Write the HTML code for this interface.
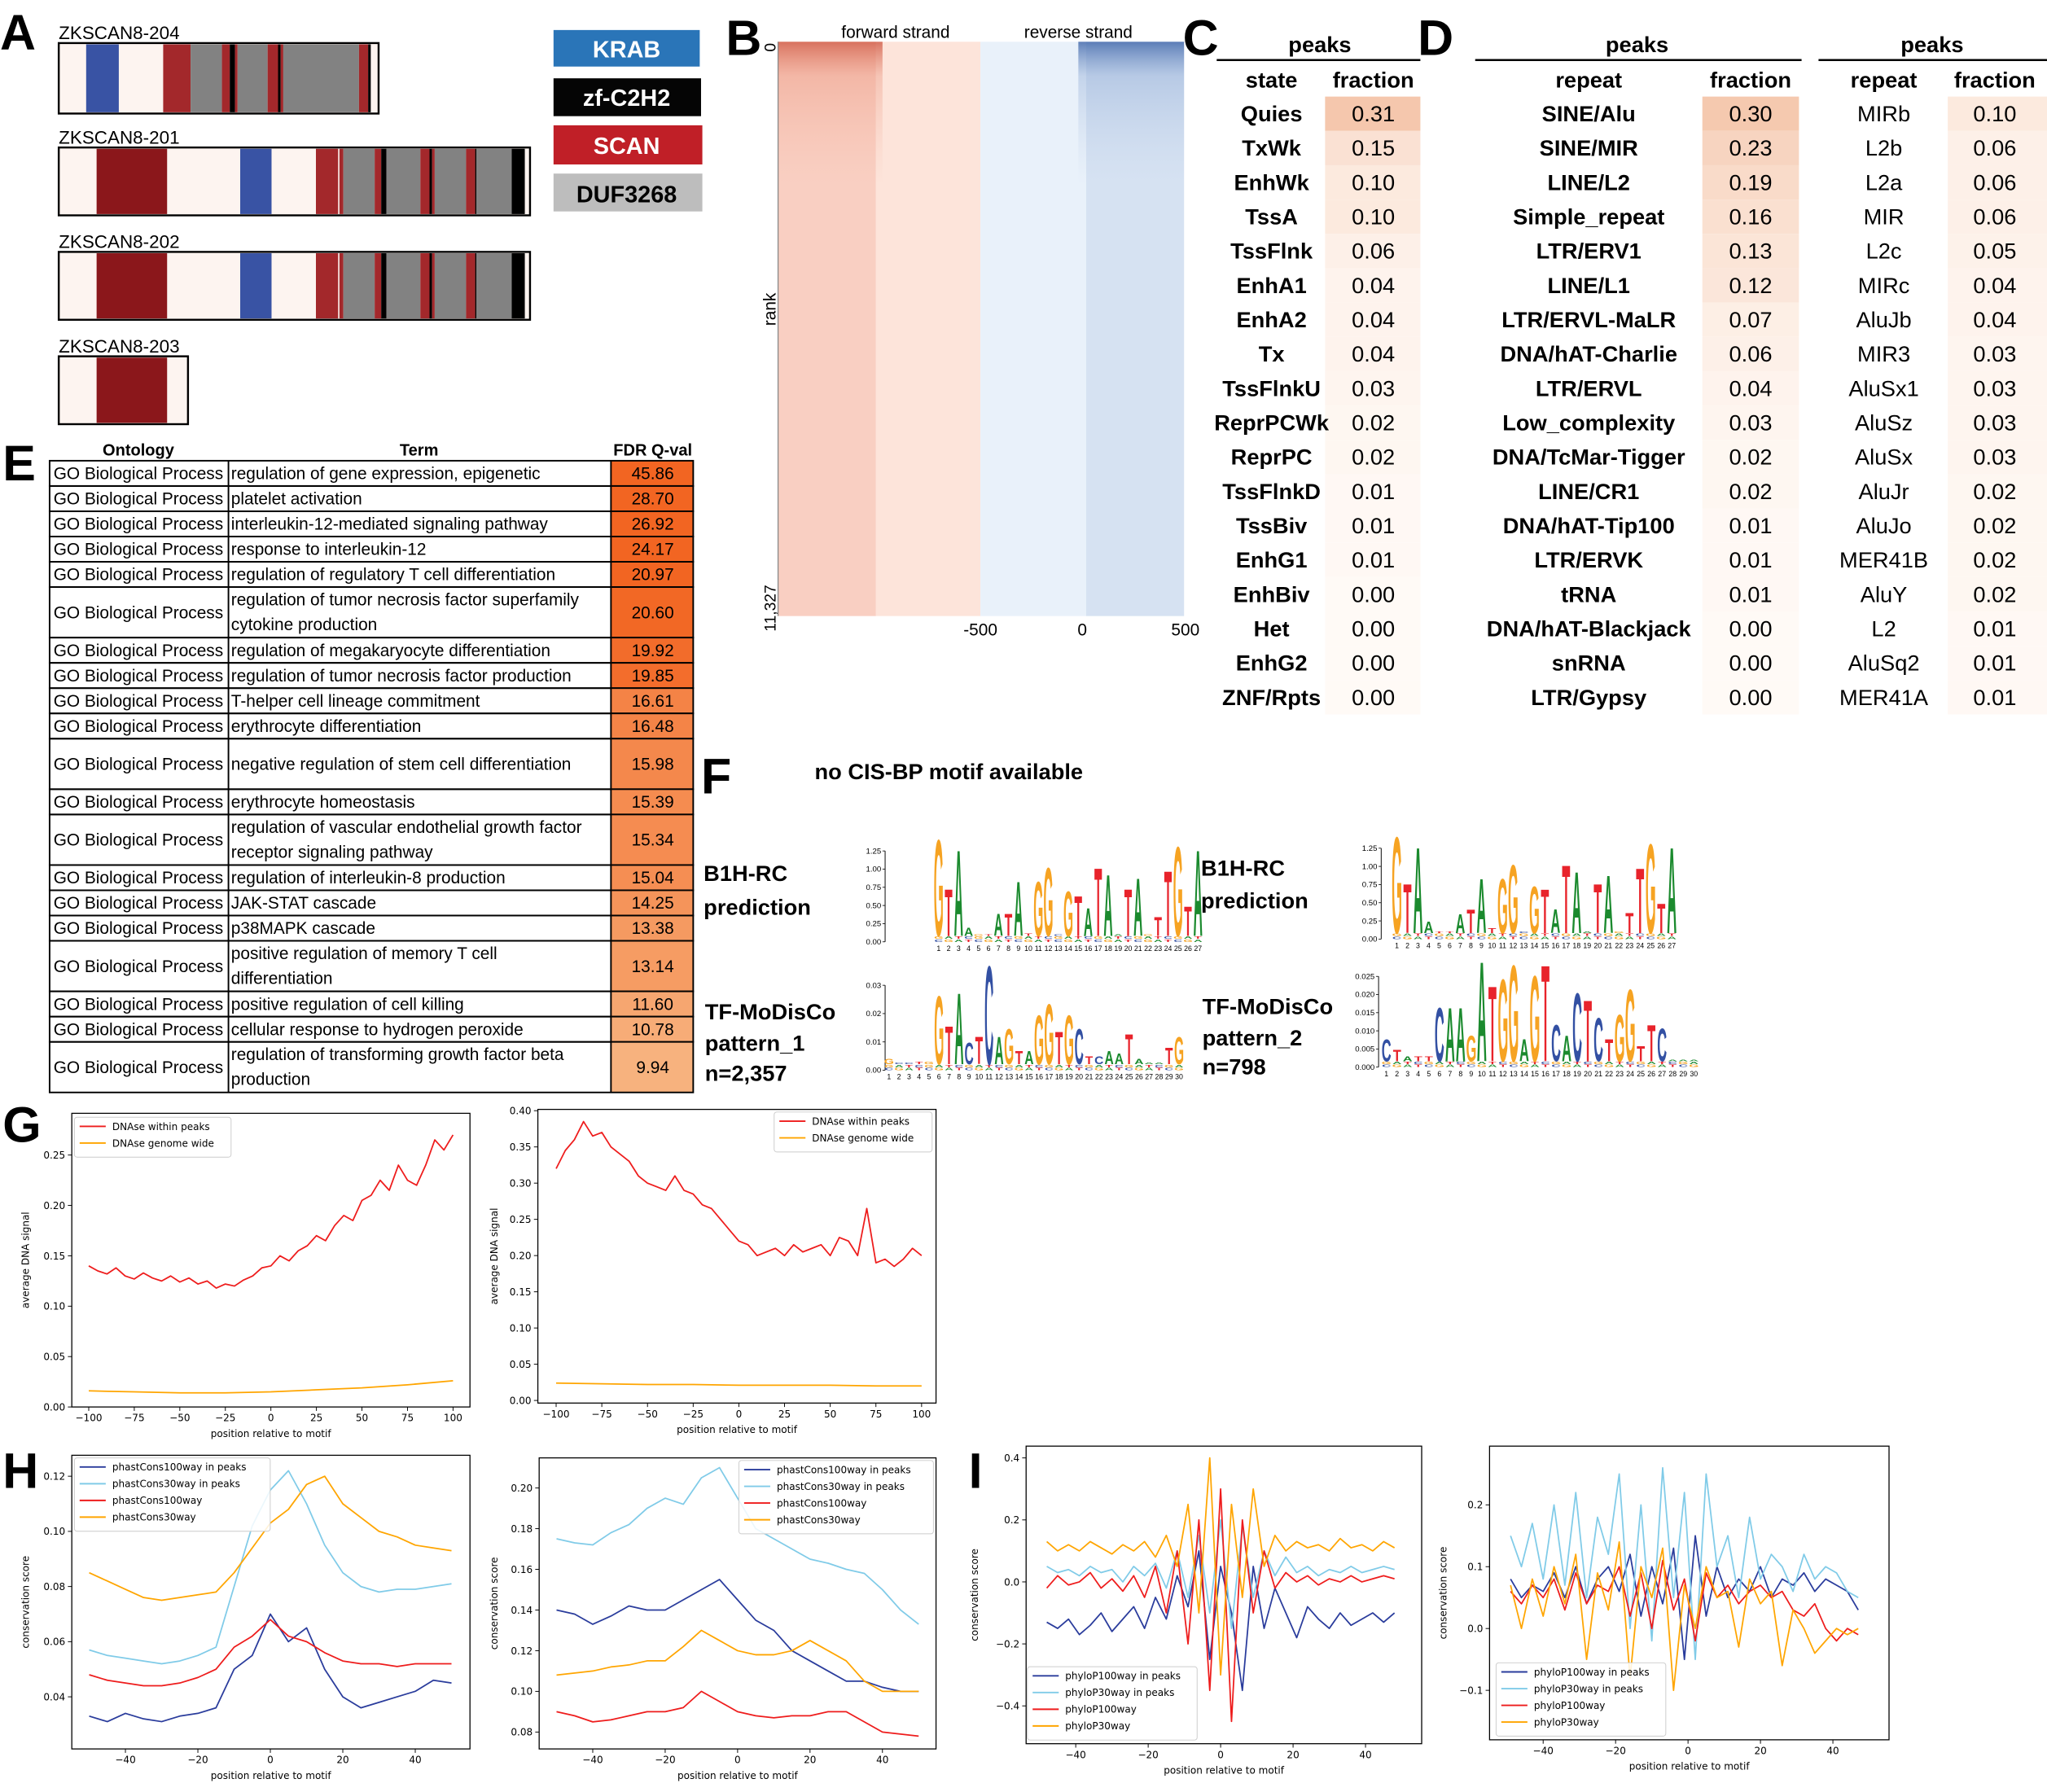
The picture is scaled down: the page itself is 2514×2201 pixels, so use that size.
<!DOCTYPE html>
<html><head><meta charset="utf-8"><title>ZKSCAN8 figure</title>
<style>
html,body{margin:0;padding:0;background:#fff;}
svg{display:block;}
text{font-family:"Liberation Sans",sans-serif;}
.tk{font-family:"DejaVu Sans","Liberation Sans",sans-serif;font-size:7.5px;fill:#000;}
.nar{font-family:"Liberation Sans Narrow","Liberation Sans",sans-serif;}
.big{font-size:38px;font-weight:bold;}
</style></head>
<body>
<svg id="fig" xmlns="http://www.w3.org/2000/svg" width="2514" height="2201" viewBox="0 0 1568 1373" preserveAspectRatio="none">
<defs>
<linearGradient id="rTop" x1="0" y1="0" x2="0" y2="1"><stop offset="0" stop-color="#cf5a45" stop-opacity="0.8"/><stop offset="0.06" stop-color="#e88a72" stop-opacity="0.35"/><stop offset="0.25" stop-color="#f3b3a0" stop-opacity="0"/></linearGradient>
<linearGradient id="bTop" x1="0" y1="0" x2="0" y2="1"><stop offset="0" stop-color="#3d64a8" stop-opacity="0.8"/><stop offset="0.06" stop-color="#7d9ccd" stop-opacity="0.35"/><stop offset="0.25" stop-color="#b9cbe6" stop-opacity="0"/></linearGradient>
</defs>
<g id="panelA">
<text class="big" x="0" y="38">A</text>
<text x="45" y="30" font-size="14">ZKSCAN8-204</text>
<g>
<rect x="45" y="33" width="245" height="54" fill="#fdf4f0" stroke="#000" stroke-width="1.5"/>
<rect x="66" y="34" width="25" height="52" fill="#3953a4"/>
<rect x="125" y="34" width="21" height="52" fill="#a3282b"/>
<rect x="146" y="34" width="24" height="52" fill="#828282"/>
<rect x="170" y="34" width="6" height="52" fill="#a3282b"/>
<rect x="176" y="34" width="4" height="52" fill="#000"/>
<rect x="180" y="34" width="2" height="52" fill="#a3282b"/>
<rect x="182" y="34" width="23" height="52" fill="#828282"/>
<rect x="205" y="34" width="8" height="52" fill="#a3282b"/>
<rect x="213" y="34" width="2" height="52" fill="#000"/>
<rect x="215" y="34" width="2" height="52" fill="#a3282b"/>
<rect x="217" y="34" width="58" height="52" fill="#828282"/>
<rect x="275" y="34" width="7" height="52" fill="#a3282b"/>
<rect x="282" y="34" width="2" height="52" fill="#000"/>
</g>
<text x="45" y="110" font-size="14">ZKSCAN8-201</text>
<g>
<rect x="45" y="113" width="361" height="52" fill="#fdf4f0" stroke="#000" stroke-width="1.5"/>
<rect x="74" y="114" width="54" height="50" fill="#8b171b"/>
<rect x="184" y="114" width="24" height="50" fill="#3953a4"/>
<rect x="242" y="114" width="17" height="50" fill="#a3282b"/>
<rect x="260" y="114" width="3" height="50" fill="#a3282b"/>
<rect x="263" y="114" width="24" height="50" fill="#828282"/>
<rect x="287" y="114" width="5" height="50" fill="#a3282b"/>
<rect x="292" y="114" width="4" height="50" fill="#000"/>
<rect x="296" y="114" width="26" height="50" fill="#828282"/>
<rect x="322" y="114" width="7" height="50" fill="#a3282b"/>
<rect x="329" y="114" width="2" height="50" fill="#000"/>
<rect x="331" y="114" width="2" height="50" fill="#a3282b"/>
<rect x="333" y="114" width="24" height="50" fill="#828282"/>
<rect x="357" y="114" width="7" height="50" fill="#a3282b"/>
<rect x="364" y="114" width="1" height="50" fill="#000"/>
<rect x="365" y="114" width="27" height="50" fill="#828282"/>
<rect x="392" y="114" width="10" height="50" fill="#000"/>
</g>
<text x="45" y="190" font-size="14">ZKSCAN8-202</text>
<g>
<rect x="45" y="193" width="361" height="52" fill="#fdf4f0" stroke="#000" stroke-width="1.5"/>
<rect x="74" y="194" width="54" height="50" fill="#8b171b"/>
<rect x="184" y="194" width="24" height="50" fill="#3953a4"/>
<rect x="242" y="194" width="17" height="50" fill="#a3282b"/>
<rect x="260" y="194" width="3" height="50" fill="#a3282b"/>
<rect x="263" y="194" width="24" height="50" fill="#828282"/>
<rect x="287" y="194" width="5" height="50" fill="#a3282b"/>
<rect x="292" y="194" width="4" height="50" fill="#000"/>
<rect x="296" y="194" width="26" height="50" fill="#828282"/>
<rect x="322" y="194" width="7" height="50" fill="#a3282b"/>
<rect x="329" y="194" width="2" height="50" fill="#000"/>
<rect x="331" y="194" width="2" height="50" fill="#a3282b"/>
<rect x="333" y="194" width="24" height="50" fill="#828282"/>
<rect x="357" y="194" width="7" height="50" fill="#a3282b"/>
<rect x="364" y="194" width="1" height="50" fill="#000"/>
<rect x="365" y="194" width="27" height="50" fill="#828282"/>
<rect x="392" y="194" width="10" height="50" fill="#000"/>
</g>
<text x="45" y="270" font-size="14">ZKSCAN8-203</text>
<g>
<rect x="45" y="273" width="99" height="52" fill="#fdf4f0" stroke="#000" stroke-width="1.5"/>
<rect x="74" y="274" width="54" height="50" fill="#8b171b"/>
</g>
<g>
<rect x="424" y="23" width="112" height="28" fill="#2a75b8"/>
<text x="480" y="44" font-size="18" font-weight="bold" fill="#fff" text-anchor="middle">KRAB</text>
<rect x="424" y="60" width="113" height="29" fill="#050505"/>
<text x="480" y="81" font-size="18" font-weight="bold" fill="#fff" text-anchor="middle">zf-C2H2</text>
<rect x="424" y="96" width="114" height="30" fill="#c01f27"/>
<text x="480" y="118" font-size="18" font-weight="bold" fill="#fff" text-anchor="middle">SCAN</text>
<rect x="424" y="133" width="114" height="29" fill="#bdbdbd"/>
<text x="480" y="155" font-size="18" font-weight="bold" fill="#000" text-anchor="middle">DUF3268</text>
</g>
</g>

<g id="panelB">
<text class="big" x="556" y="42">B</text>
<rect x="596" y="32" width="75" height="440" fill="#f9cfc2"/>
<rect x="671" y="32" width="80" height="440" fill="#fde4da"/>
<rect x="596" y="32" width="80" height="440" fill="url(#rTop)"/>
<rect x="751" y="32" width="81" height="440" fill="#e9f1fa"/>
<rect x="832" y="32" width="75" height="440" fill="#d6e2f2"/>
<rect x="826" y="32" width="81" height="440" fill="url(#bTop)"/>
<text x="686" y="29" font-size="13" text-anchor="middle">forward strand</text>
<text x="826" y="29" font-size="13" text-anchor="middle">reverse strand</text>
<line x1="596" y1="32" x2="596" y2="472" stroke="#888" stroke-width="0.8"/>
<text transform="translate(594,237) rotate(-90)" font-size="13" text-anchor="middle">rank</text>
<text transform="translate(594,33) rotate(-90)" font-size="12" text-anchor="end">0</text>
<text transform="translate(594,466) rotate(-90)" font-size="12" text-anchor="middle">11,327</text>
<text x="751" y="487" font-size="13" text-anchor="middle">-500</text>
<text x="829" y="487" font-size="13" text-anchor="middle">0</text>
<text x="908" y="487" font-size="13" text-anchor="middle">500</text>
</g>

<text class="big" x="906" y="42">C</text>
<text class="big" x="1086" y="42">D</text>
<text class="big" x="2" y="368">E</text>
<text class="big" x="537" y="608">F</text>
<text class="big" x="2" y="875">G</text>
<text class="big" x="2" y="1140">H</text>
<text class="big" x="742" y="1140">I</text>

<g id="panelF">
<text x="624" y="597" font-size="17" font-weight="bold">no CIS-BP motif available</text>
<text x="539" y="675" font-size="17" font-weight="bold">B1H-RC</text>
<text x="539" y="701" font-size="17" font-weight="bold">prediction</text>
<text x="920" y="671" font-size="17" font-weight="bold">B1H-RC</text>
<text x="920" y="696" font-size="17" font-weight="bold">prediction</text>
<text x="540" y="781" font-size="17" font-weight="bold">TF-MoDisCo</text>
<text x="540" y="805" font-size="17" font-weight="bold">pattern_1</text>
<text x="540" y="828" font-size="17" font-weight="bold">n=2,357</text>
<text x="921" y="777" font-size="17" font-weight="bold">TF-MoDisCo</text>
<text x="921" y="801" font-size="17" font-weight="bold">pattern_2</text>
<text x="921" y="823" font-size="17" font-weight="bold">n=798</text>
</g>
</svg>
<script>
const NS='http://www.w3.org/2000/svg';
const svg=document.getElementById('fig');
function mk(tag,a,p){const e=document.createElementNS(NS,tag);for(const k in a)e.setAttribute(k,a[k]);(p||svg).appendChild(e);return e;}

/* ---------- Panel C / D tables ---------- */
const cStates=['Quies','TxWk','EnhWk','TssA','TssFlnk','EnhA1','EnhA2','Tx','TssFlnkU','ReprPCWk','ReprPC','TssFlnkD','TssBiv','EnhG1','EnhBiv','Het','EnhG2','ZNF/Rpts'];
const cFrac=[0.31,0.15,0.10,0.10,0.06,0.04,0.04,0.04,0.03,0.02,0.02,0.01,0.01,0.01,0.00,0.00,0.00,0.00];
const dRepeats=['SINE/Alu','SINE/MIR','LINE/L2','Simple_repeat','LTR/ERV1','LINE/L1','LTR/ERVL-MaLR','DNA/hAT-Charlie','LTR/ERVL','Low_complexity','DNA/TcMar-Tigger','LINE/CR1','DNA/hAT-Tip100','LTR/ERVK','tRNA','DNA/hAT-Blackjack','snRNA','LTR/Gypsy'];
const dFrac=[0.30,0.23,0.19,0.16,0.13,0.12,0.07,0.06,0.04,0.03,0.02,0.02,0.01,0.01,0.01,0.00,0.00,0.00];
const d2Repeats=['MIRb','L2b','L2a','MIR','L2c','MIRc','AluJb','MIR3','AluSx1','AluSz','AluSx','AluJr','AluJo','MER41B','AluY','L2','AluSq2','MER41A'];
const d2Frac=[0.10,0.06,0.06,0.06,0.05,0.04,0.04,0.03,0.03,0.03,0.03,0.02,0.02,0.02,0.02,0.01,0.01,0.01];
function fracColor(v){const t=Math.min(1,v/0.33);const r=Math.round(255-(255-244)*t),g=Math.round(250-(250-196)*t),b=Math.round(246-(246-168)*t);return `rgb(${r},${g},${b})`;}
function table(labels,fracs,o){
  const g=mk('g',{});
  
  
  const t1=mk('text',{x:o.pc,y:40,'font-size':17,'font-weight':'bold','text-anchor':'middle'},g);t1.textContent='peaks';
  
  
  const ln=mk('line',{x1:o.l1,x2:o.l2,y1:46,y2:46,stroke:'#000','stroke-width':1.5},g);
  
  
  const h1=mk('text',{x:o.c1,y:67,'font-size':17,'font-weight':'bold','text-anchor':'middle'},g);h1.textContent=o.h1;
  
  
  const h2=mk('text',{x:o.c2,y:67,'font-size':17,'font-weight':'bold','text-anchor':'middle'},g);h2.textContent='fraction';
  
  
  labels.forEach((lab,i)=>{
    const y0=74+i*26.3;
    const r=mk('rect',{x:o.fx,y:y0,width:o.fw,height:26.3,fill:fracColor(fracs[i])},g);
    
    
    const a=mk('text',{x:o.c1,y:y0+19,'font-size':17,'font-weight':o.bold?'bold':'normal','text-anchor':'middle'},g);a.textContent=lab;
    
    
    const b=mk('text',{x:o.c2,y:y0+19,'font-size':17,'text-anchor':'middle'},g);b.textContent=fracs[i].toFixed(2);
    
    
  });
}
table(cStates,cFrac,{name:'chromatin-state-table',pc:1011,l1:932,l2:1088,c1:974,c2:1052,h1:'state',fx:1015,fw:73,bold:true});
table(dRepeats,dFrac,{name:'repeat-family-table',pc:1254,l1:1130,l2:1380,c1:1217,c2:1341,h1:'repeat',fx:1304,fw:74,bold:true});
table(d2Repeats,d2Frac,{name:'repeat-subfamily-table',pc:1480,l1:1393,l2:1568,c1:1443,c2:1528,h1:'repeat',fx:1492,fw:76,bold:false});

/* ---------- Panel E GO table ---------- */
const goTerms=[['regulation of gene expression, epigenetic'],['platelet activation'],['interleukin-12-mediated signaling pathway'],['response to interleukin-12'],['regulation of regulatory T cell differentiation'],['regulation of tumor necrosis factor superfamily','cytokine production'],['regulation of megakaryocyte differentiation'],['regulation of tumor necrosis factor production'],['T-helper cell lineage commitment'],['erythrocyte differentiation'],['negative regulation of stem cell differentiation'],['erythrocyte homeostasis'],['regulation of vascular endothelial growth factor','receptor signaling pathway'],['regulation of interleukin-8 production'],['JAK-STAT cascade'],['p38MAPK cascade'],['positive regulation of memory T cell','differentiation'],['positive regulation of cell killing'],['cellular response to hydrogen peroxide'],['regulation of transforming growth factor beta','production']];
const goFdr=[45.86,28.70,26.92,24.17,20.97,20.60,19.92,19.85,16.61,16.48,15.98,15.39,15.34,15.04,14.25,13.38,13.14,11.60,10.78,9.94];
const goUnits=[1,1,1,1,1,2,1,1,1,1,2,1,2,1,1,1,2,1,1,2];
(function(){
  const g=mk('g',{});
  
  
  [['Ontology',106],['Term',321],['FDR Q-val',500]].forEach(h=>{
    const t=mk('text',{x:h[1],y:349,'font-size':12.5,'font-weight':'bold','text-anchor':'middle',class:'nar'},g);t.textContent=h[0];
    
    
  });
  const U=19.36;let y=353;
  goTerms.forEach((lines,i)=>{
    const h=goUnits[i]*U;
    const f=Math.max(0,Math.min(1,(goFdr[i]-9.9)/(21-9.9)));
    const col=`rgb(${Math.round(247-5*f)},${Math.round(178-77*f)},${Math.round(126-92*f)})`;
    const c=mk('rect',{x:468,y:y,width:63,height:h,fill:col},g);
    
    
    const r=mk('rect',{x:38,y:y,width:493,height:h,fill:'none',stroke:'#000','stroke-width':1.2},g);
    
    
    const o=mk('text',{x:41,y:y+h/2+4.5,'font-size':13,class:'nar'},g);o.textContent='GO Biological Process';
    
    
    lines.forEach((ln,j)=>{
      const ty=lines.length===1?y+h/2+4.5:y+14+j*19;
      const t=mk('text',{x:177,y:ty,'font-size':13,class:'nar'},g);t.textContent=ln;
      
      
    });
    const v=mk('text',{x:500,y:y+h/2+4.5,'font-size':13,'text-anchor':'middle',class:'nar'},g);v.textContent=goFdr[i].toFixed(2);
    
    
    y+=h;
  });
  [175,468].forEach(x=>{const l=mk('line',{x1:x,x2:x,y1:353,y2:837,stroke:'#000','stroke-width':1.2},g);
    
    });
})();

/* ---------- Panel F sequence logos ---------- */
const logo1Letters=['G','T','A','A','G','T','A','T','A','T','G','G','C','G','T','A','T','A','A','T','A','G','T','T','G','T','A'];
const logo1Heights=[1.45,0.75,1.3,0.2,0.1,0.05,0.4,0.4,0.85,0.12,0.85,1.05,0.03,0.72,0.65,0.48,1.05,0.95,0.1,0.75,0.9,0.1,0.35,1.0,1.35,0.5,1.3];
const logo2Letters=['G','T','A','A','T','T','A','T','A','T','G','G','C','G','T','A','T','A','A','T','A','G','T','T','G','T','A'];
const logo2Heights=[1.45,0.78,1.3,0.25,0.05,0.05,0.35,0.42,0.85,0.15,0.85,1.05,0.03,0.75,0.7,0.42,1.05,0.95,0.1,0.78,0.9,0.1,0.37,1.0,1.35,0.5,1.3];
const logo3Letters=['G','C','C','T','G','G','T','A','C','T','C','A','G','T','A','G','G','T','G','C','T','C','A','A','T','A','A','A','T','G'];
const logo3Heights=[0.004,0.002,0.002,0.003,0.003,0.027,0.016,0.028,0.01,0.012,0.038,0.012,0.015,0.007,0.007,0.02,0.024,0.014,0.02,0.015,0.005,0.005,0.007,0.006,0.013,0.004,0.002,0.002,0.008,0.012];
const logo4Letters=['C','T','A','T','T','C','A','A','G','A','T','G','G','A','G','T','C','A','C','T','C','T','G','G','T','T','C','A','A','A'];
const logo4Heights=[0.008,0.005,0.003,0.003,0.003,0.017,0.017,0.017,0.009,0.03,0.023,0.025,0.029,0.008,0.026,0.029,0.012,0.009,0.021,0.019,0.014,0.008,0.015,0.022,0.006,0.012,0.011,0.002,0.002,0.002];
const logo1Ticks=['0.00','0.25','0.50','0.75','1.00','1.25'];
const logo3Ticks=['0.00','0.01','0.02','0.03'];
const logo4Ticks=['0.000','0.005','0.010','0.015','0.020','0.025'];
const LC={A:'#1b8a2e',C:'#3350a3',G:'#f6a322',T:'#e8232b'};
function logo(name,letters,heights,ticks,o){
  const g=mk('g',{});
  
  
  const yS=v=>o.y0-v*o.k;
  const ax=mk('line',{x1:o.ax,x2:o.ax,y1:yS(parseFloat(ticks[ticks.length-1])),y2:o.y0,stroke:'#000','stroke-width':0.6},g);
  
  
  ticks.forEach(t=>{const v=parseFloat(t);
    const l=mk('line',{x1:o.ax-2,x2:o.ax,y1:yS(v),y2:yS(v),stroke:'#000','stroke-width':0.5},g);
    
    
    const tx=mk('text',{x:o.ax-3,y:yS(v)+2,'font-size':6,'text-anchor':'end',class:'nar'},g);tx.textContent=t;
    
    });
  const base=['C','G','A','T'];
  letters.forEach((L,i)=>{
    const cx=o.x1+i*o.dx;
    let yb=o.y0;
    for(let j=0;j<2;j++){
      const bl=base[(i+j)%4];
      const e=mk('text',{transform:`translate(${cx},${yb}) scale(${o.dx*0.9/7.5},${2.2/7.2})`,'font-size':10,'font-weight':'bold','text-anchor':'middle',fill:LC[bl]},g);e.textContent=bl;
      
      
      yb-=2.3;
    }
    const h=Math.max(1,heights[i]*o.k-4.6);
    const t=mk('text',{transform:`translate(${cx},${yb}) scale(${o.dx*0.95/7.5},${h/7.2})`,'font-size':10,'font-weight':'bold','text-anchor':'middle',fill:LC[L]},g);t.textContent=L;
    
    
    const n=mk('text',{x:cx,y:o.y0+7,'font-size':5.5,'text-anchor':'middle',class:'nar'},g);n.textContent=String(i+1);
    
    
  });
}
logo('logo-b1h-rc-1',logo1Letters,logo1Heights,logo1Ticks,{ax:678,y0:721.6,k:55.7,x1:719,dx:7.64});
logo('logo-b1h-rc-2',logo2Letters,logo2Heights,logo1Ticks,{ax:1058,y0:719.5,k:55.7,x1:1070,dx:8.1});
logo('logo-modisco-1',logo3Letters,logo3Heights,logo3Ticks,{ax:678,y0:820,k:2170,x1:681,dx:7.66});
logo('logo-modisco-2',logo4Letters,logo4Heights,logo4Ticks,{ax:1056,y0:817.6,k:2780,x1:1062,dx:8.12});

/* ---------- Line plots G/H/I ---------- */
const gX=[-100,-95,-90,-85,-80,-75,-70,-65,-60,-55,-50,-45,-40,-35,-30,-25,-20,-15,-10,-5,0,5,10,15,20,25,30,35,40,45,50,55,60,65,70,75,80,85,90,95,100];
const g1Red=[.14,.135,.132,.138,.13,.127,.133,.128,.125,.13,.124,.128,.122,.125,.118,.122,.12,.126,.13,.138,.14,.15,.145,.155,.16,.17,.165,.18,.19,.185,.205,.21,.225,.215,.24,.225,.22,.24,.265,.255,.27];
const gXs=[-100,-75,-50,-25,0,25,50,75,100];
const g1Orange=[.016,.015,.014,.014,.015,.017,.019,.022,.026];
const g2Red=[.32,.345,.36,.385,.365,.37,.35,.34,.33,.31,.30,.295,.29,.31,.29,.285,.27,.265,.25,.235,.22,.215,.20,.205,.21,.20,.215,.205,.21,.215,.20,.225,.22,.20,.265,.19,.195,.185,.195,.21,.20];
const g2Orange=[.024,.023,.022,.022,.021,.021,.021,.02,.02];
const hX=[-50,-45,-40,-35,-30,-25,-20,-15,-10,-5,0,5,10,15,20,25,30,35,40,45,50];
const h1Dark=[.033,.031,.034,.032,.031,.033,.034,.036,.05,.055,.07,.06,.065,.05,.04,.036,.038,.04,.042,.046,.045];
const h1Light=[.057,.055,.054,.053,.052,.053,.055,.058,.08,.102,.115,.122,.11,.095,.085,.08,.078,.079,.079,.08,.081];
const h1Red=[.048,.046,.045,.044,.044,.045,.047,.05,.058,.062,.068,.062,.06,.056,.053,.052,.052,.051,.052,.052,.052];
const h1Orange=[.085,.082,.079,.076,.075,.076,.077,.078,.085,.094,.103,.108,.117,.12,.11,.105,.1,.098,.095,.094,.093];
const h2Dark=[.14,.138,.133,.137,.142,.14,.14,.145,.15,.155,.145,.135,.13,.12,.115,.11,.105,.105,.102,.1,.1];
const h2Light=[.175,.173,.172,.178,.182,.19,.195,.192,.205,.21,.195,.18,.175,.17,.165,.163,.16,.158,.15,.14,.133];
const h2Red=[.09,.088,.085,.086,.088,.09,.09,.092,.1,.095,.09,.088,.087,.088,.088,.09,.09,.085,.08,.079,.078];
const h2Orange=[.108,.109,.11,.112,.113,.115,.115,.122,.13,.125,.12,.118,.118,.12,.125,.12,.115,.105,.1,.1,.1];
const iX=[-48,-45,-42,-39,-36,-33,-30,-27,-24,-21,-18,-15,-12,-9,-6,-3,0,3,6,9,12,15,18,21,24,27,30,33,36,39,42,45,48];
const i1Dark=[-.13,-.15,-.12,-.17,-.14,-.1,-.16,-.12,-.08,-.15,-.05,-.12,.02,-.08,.1,-.25,.05,-.1,-.35,.05,-.15,-.02,-.1,-.18,-.08,-.12,-.15,-.1,-.14,-.12,-.1,-.13,-.1];
const i1Light=[.05,.03,.04,.02,.05,.03,.04,0,.05,.02,.06,-.02,.1,-.05,.15,-.1,.2,-.15,.18,-.05,.1,.02,.08,.03,.05,.02,.04,.03,.05,.03,.04,.05,.04];
const i1Red=[-.02,.02,-.01,0,.03,-.02,.01,-.03,.02,-.05,.05,-.1,.1,-.2,.2,-.35,.3,-.45,.2,-.1,.1,-.02,.03,0,.02,-.01,.01,0,.02,0,.01,.02,.01];
const i1Orange=[.13,.1,.12,.1,.13,.11,.09,.12,.1,.13,.08,.15,.05,.25,-.1,.4,-.3,.25,-.05,.3,.05,.15,.1,.13,.11,.12,.1,.14,.11,.12,.1,.13,.11];
const i2X=[-49,-46,-43,-40,-37,-34,-31,-28,-25,-22,-19,-16,-13,-10,-7,-4,-1,2,5,8,11,14,17,20,23,26,29,32,35,38,41,44,47];
const i2Dark=[.08,.05,.07,.06,.09,.05,.1,.04,.08,.1,.06,.12,.02,.1,.04,.13,-.05,.15,.02,.1,.05,.08,.06,.1,.05,.08,.07,.09,.06,.08,.07,.06,.03];
const i2Light=[.15,.1,.17,.08,.2,.07,.22,.05,.18,.12,.25,0,.2,-.02,.26,.05,.22,-.05,.25,.1,.15,.05,.18,.08,.12,.1,.06,.12,.08,.1,.09,.06,.05];
const i2Red=[.06,.04,.07,.05,.08,.03,.09,.04,.07,.06,.1,.02,.09,0,.11,.03,.08,-.02,.09,.05,.07,.04,.06,.07,.05,.06,.03,.02,.04,0,-.02,0,-.01];
const i2Orange=[.07,0,.08,.02,.1,.04,.12,-.05,.09,.03,.14,-.08,.1,.05,.13,-.1,.07,0,.1,.05,.06,-.03,.08,.04,.06,-.06,.03,0,-.04,-.02,0,-.01,0];
const gYTicks1=['0.00','0.05','0.10','0.15','0.20','0.25'];
const gYTicks2=['0.00','0.05','0.10','0.15','0.20','0.25','0.30','0.35','0.40'];
const gXTicks=[-100,-75,-50,-25,0,25,50,75,100];
const hYTicks1=['0.04','0.06','0.08','0.10','0.12'];
const hYTicks2=['0.08','0.10','0.12','0.14','0.16','0.18','0.20'];
const hXTicks=[-40,-20,0,20,40];
const iYTicks1=['−0.4','−0.2','0.0','0.2','0.4'];
const iYTicks2=['−0.1','0.0','0.1','0.2'];
const RED='#ee1c1c',ORA='#ffa500',DARK='#2a3c9c',LIGHT='#80cbe8';
function plot(name,o){
  const g=mk('g',{});
  
  
  const xs=v=>o.x0+(v-o.xl[0])/(o.xl[1]-o.xl[0])*(o.x1-o.x0);
  const ys=v=>o.y1-(v-o.yl[0])/(o.yl[1]-o.yl[0])*(o.y1-o.y0);
  o.series.forEach(s=>{
    const p=mk('polyline',{points:s.x.map((x,i)=>xs(x).toFixed(2)+','+ys(s.y[i]).toFixed(2)).join(' '),fill:'none',stroke:s.c,'stroke-width':1.1,'stroke-linejoin':'round'},g);
    
    
  });
  const fr=mk('rect',{x:o.x0,y:o.y0,width:o.x1-o.x0,height:o.y1-o.y0,fill:'none',stroke:'#000','stroke-width':0.8},g);
  
  
  o.xt.forEach(v=>{
    const l=mk('line',{x1:xs(v),x2:xs(v),y1:o.y1,y2:o.y1+3,stroke:'#000','stroke-width':0.6},g);
    
    
    const t=mk('text',{x:xs(v),y:o.y1+11,'text-anchor':'middle',class:'tk'},g);t.textContent=v<0?'−'+(-v):String(v);
    
    
  });
  o.yt.forEach(s=>{const v=parseFloat(s.replace('−','-'));
    const l=mk('line',{x1:o.x0-3,x2:o.x0,y1:ys(v),y2:ys(v),stroke:'#000','stroke-width':0.6},g);
    
    
    const t=mk('text',{x:o.x0-5,y:ys(v)+2.7,'text-anchor':'end',class:'tk'},g);t.textContent=s;
    
    
  });
  const xl=mk('text',{x:(o.x0+o.x1)/2,y:o.y1+23,'text-anchor':'middle',class:'tk'},g);xl.textContent='position relative to motif';
  
  
  const yl=mk('text',{transform:`translate(${o.ylx},${(o.y0+o.y1)/2}) rotate(-90)`,'text-anchor':'middle',class:'tk'},g);yl.textContent=o.ylab;
  
  
  const lg=mk('rect',{x:o.lg[0],y:o.lg[1],width:o.lg[2],height:o.series.length*12.8+5,fill:'#fff','fill-opacity':0.85,stroke:'#ccc','stroke-width':0.6,rx:2},g);
  
  
  o.series.forEach((s,i)=>{
    const yy=o.lg[1]+7+i*12.8;
    const l=mk('line',{x1:o.lg[0]+4,x2:o.lg[0]+24,y1:yy,y2:yy,stroke:s.c,'stroke-width':1.2},g);
    
    
    const t=mk('text',{x:o.lg[0]+29,y:yy+2.7,class:'tk'},g);t.textContent=s.n;
    
    
  });
}
plot('plot-g1-dnase',{x0:55,x1:360,y0:853,y1:1078,xl:[-109.3,109.3],yl:[0,0.2914],xt:gXTicks,yt:gYTicks1,ylx:22,ylab:'average DNA signal',lg:[57,856,120],
  series:[{x:gX,y:g1Red,c:RED,n:'DNAse within peaks'},{x:gXs,y:g1Orange,c:ORA,n:'DNAse genome wide'}]});
plot('plot-g2-dnase',{x0:412,x1:717,y0:850,y1:1075,xl:[-110,107.9],yl:[-0.0036,0.4018],xt:gXTicks,yt:gYTicks2,ylx:381,ylab:'average DNA signal',lg:[593,852,121],
  series:[{x:gX,y:g2Red,c:RED,n:'DNAse within peaks'},{x:gXs,y:g2Orange,c:ORA,n:'DNAse genome wide'}]});
plot('plot-h1-phastcons',{x0:55,x1:360,y0:1115,y1:1340,xl:[-54.8,55.1],yl:[0.0211,0.1276],xt:hXTicks,yt:hYTicks1,ylx:22,ylab:'conservation score',lg:[57,1117,150],
  series:[{x:hX,y:h1Dark,c:DARK,n:'phastCons100way in peaks'},{x:hX,y:h1Light,c:LIGHT,n:'phastCons30way in peaks'},{x:hX,y:h1Red,c:RED,n:'phastCons100way'},{x:hX,y:h1Orange,c:ORA,n:'phastCons30way'}]});
plot('plot-h2-phastcons',{x0:413,x1:717,y0:1117,y1:1340,xl:[-54.8,54.8],yl:[0.0717,0.2148],xt:hXTicks,yt:hYTicks2,ylx:381,ylab:'conservation score',lg:[566,1119,149],
  series:[{x:hX,y:h2Dark,c:DARK,n:'phastCons100way in peaks'},{x:hX,y:h2Light,c:LIGHT,n:'phastCons30way in peaks'},{x:hX,y:h2Red,c:RED,n:'phastCons100way'},{x:hX,y:h2Orange,c:ORA,n:'phastCons30way'}]});
plot('plot-i1-phylop',{x0:786,x1:1089,y0:1108,y1:1336,xl:[-53.7,55.5],yl:[-0.522,0.438],xt:hXTicks,yt:iYTicks1,ylx:749,ylab:'conservation score',lg:[787,1277,130],
  series:[{x:iX,y:i1Dark,c:DARK,n:'phyloP100way in peaks'},{x:iX,y:i1Light,c:LIGHT,n:'phyloP30way in peaks'},{x:iX,y:i1Red,c:RED,n:'phyloP100way'},{x:iX,y:i1Orange,c:ORA,n:'phyloP30way'}]});
plot('plot-i2-phylop',{x0:1141,x1:1447,y0:1108,y1:1333,xl:[-54.8,55.5],yl:[-0.180,0.295],xt:hXTicks,yt:iYTicks2,ylx:1108,ylab:'conservation score',lg:[1146,1274,130],
  series:[{x:i2X,y:i2Dark,c:DARK,n:'phyloP100way in peaks'},{x:i2X,y:i2Light,c:LIGHT,n:'phyloP30way in peaks'},{x:i2X,y:i2Red,c:RED,n:'phyloP100way'},{x:i2X,y:i2Orange,c:ORA,n:'phyloP30way'}]});
</script>
</body></html>
